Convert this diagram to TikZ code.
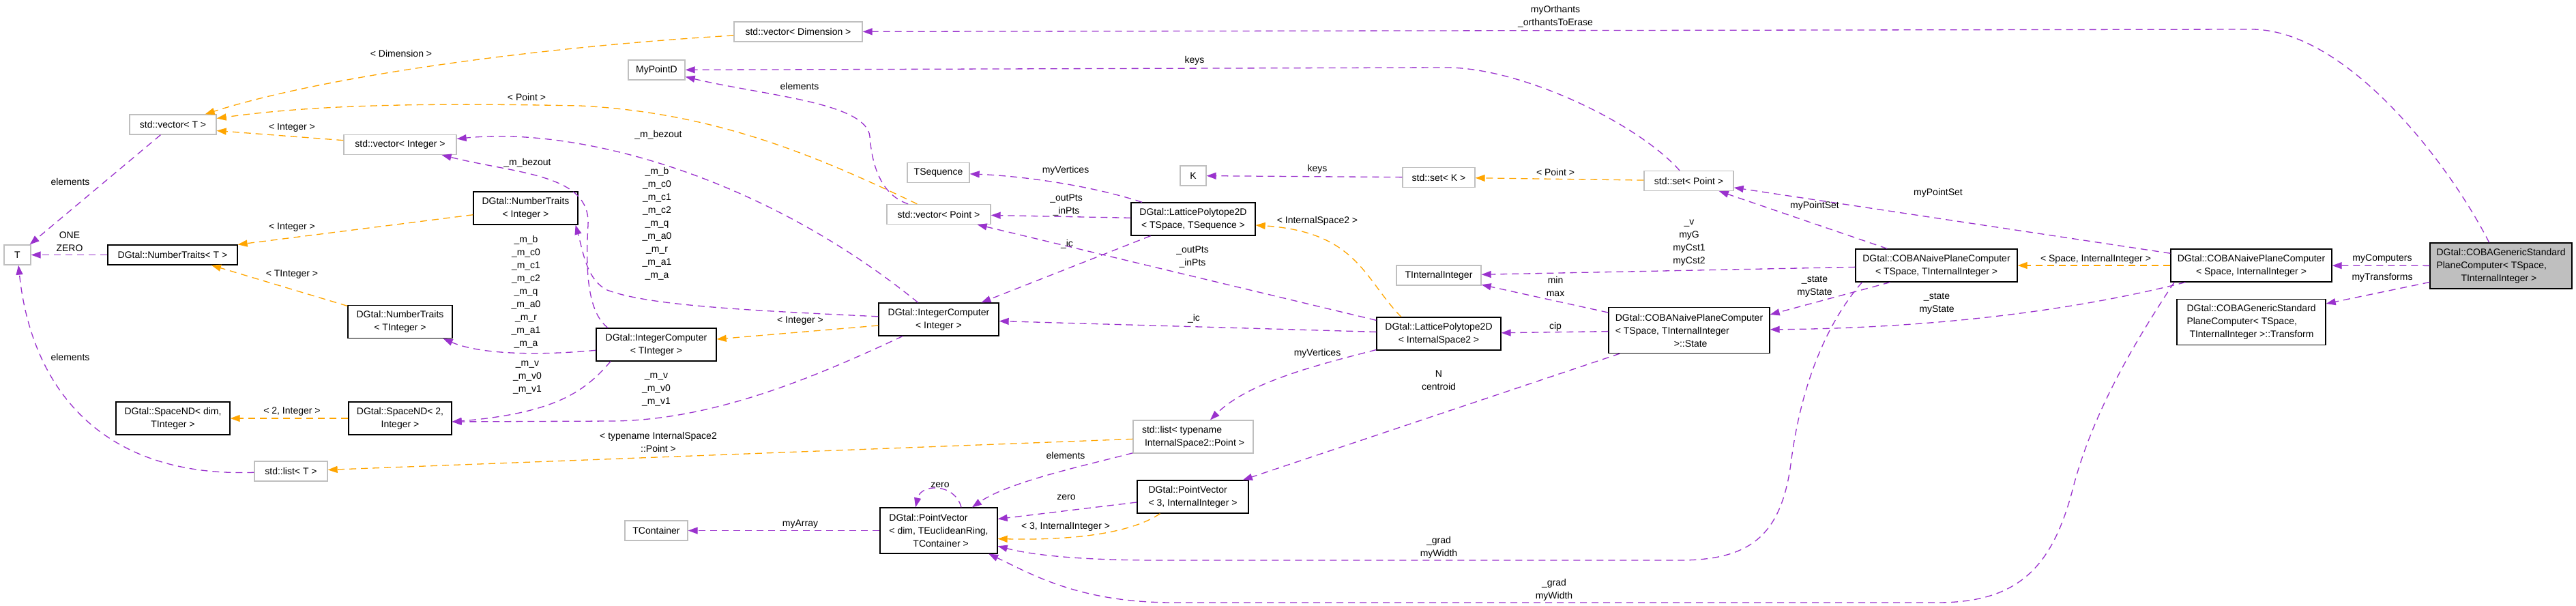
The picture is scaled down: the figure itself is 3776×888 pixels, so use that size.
\documentclass[tikz,border=0pt]{standalone}
\usepackage{fontspec}
\setmainfont{Liberation Sans}
\usepackage{tikz}
\usetikzlibrary{arrows.meta}
\usepackage{xcolor}
\definecolor{usepurple}{HTML}{9A32CD}
\definecolor{tmplorange}{HTML}{FFA500}
\definecolor{undocgray}{HTML}{BFBFBF}
\definecolor{mainfill}{HTML}{BFBFBF}
\newcommand{\dgsize}{\fontsize{14}{19}\selectfont}
\tikzset{
    docbox/.style={draw=black, line width=1.3pt, fill=white, inner sep=0pt, minimum height=29pt, font=\dgsize, align=center},
    undocbox/.style={docbox, draw=undocgray},
    mainbox/.style={docbox, fill=mainfill},
    twoline/.style={minimum height=48pt},
    threeline/.style={minimum height=67pt},
    usage/.style={draw=usepurple, line width=1.3pt, dash pattern=on 10pt off 7pt, -{Triangle[length=14pt, width=10pt]}},
    tmplarrow/.style={usage, draw=tmplorange},
    elabel/.style={font=\dgsize, align=center, inner sep=0pt}
}

\begin{document}
\begin{tikzpicture}[x=1pt, y=-1pt]
    \useasboundingbox (0,0) rectangle (3776,888);

    \node[undocbox, minimum width=188pt] (vecDim) at (1170,46.5) {std::vector< Dimension >};
    \node[undocbox, minimum width=83pt] (mypt) at (962.5,102.5) {MyPointD};
    \node[undocbox, minimum width=127pt] (vecT) at (253.5,182.5) {std::vector< T >};
    \node[undocbox, minimum width=165pt] (vecInt) at (586.5,212) {std::vector< Integer >};
    \node[undocbox, minimum width=39pt] (T) at (25.5,373.5) {T};
    \node[docbox, minimum width=190pt] (ntT) at (253,373.5) {DGtal::NumberTraits< T >};
    \node[docbox, twoline, minimum width=153pt] (ntInt) at (770.5,305) {DGtal::NumberTraits\\< Integer >};
    \node[docbox, twoline, minimum width=153pt] (ntTInt) at (586.5,471.5) {DGtal::NumberTraits\\< TInteger >};
    \node[docbox, twoline, minimum width=167pt] (spDim) at (253.5,613) {DGtal::SpaceND< dim,\\TInteger >};
    \node[docbox, twoline, minimum width=151pt] (sp2) at (586.5,613) {DGtal::SpaceND< 2,\\Integer >};
    \node[undocbox, minimum width=107pt] (lstT) at (426.5,690.5) {std::list< T >};
    \node[docbox, twoline, minimum width=176pt] (icT) at (962,505) {DGtal::IntegerComputer\\< TInteger >};
    \node[docbox, twoline, minimum width=176pt] (icInt) at (1376,468) {DGtal::IntegerComputer\\< Integer >};
    \node[undocbox, minimum width=92pt] (tcont) at (962,777.5) {TContainer};
    \node[docbox, threeline, minimum width=172pt, align=left] (pvDim) at (1376,777.5) {DGtal::PointVector\\< dim, TEuclideanRing,\\\hspace*{35pt}TContainer >};
    \node[docbox, twoline, minimum width=163pt, align=left] (pv3) at (1748.5,728) {DGtal::PointVector\\< 3, InternalInteger >};
    \node[undocbox, twoline, minimum width=176pt, align=left] (lstIS) at (1749,640) {std::list< typename\\\hspace*{4pt}InternalSpace2::Point >};
    \node[undocbox, minimum width=91pt] (tseq) at (1375.5,253) {TSequence};
    \node[undocbox, minimum width=152pt] (vecPt) at (1376,314) {std::vector< Point >};
    \node[docbox, twoline, minimum width=182pt] (lpTS) at (1749,321) {DGtal::LatticePolytope2D\\< TSpace, TSequence >};
    \node[undocbox, minimum width=38pt] (K) at (1749,257.5) {K};
    \node[undocbox, minimum width=106pt] (setK) at (2109,260) {std::set< K >};
    \node[undocbox, minimum width=131pt] (setPt) at (2475.5,265) {std::set< Point >};
    \node[undocbox, minimum width=124pt] (tii) at (2109,403.5) {TInternalInteger};
    \node[docbox, twoline, minimum width=182pt] (lpIS) at (2109,489) {DGtal::LatticePolytope2D\\< InternalSpace2 >};
    \node[docbox, threeline, minimum width=236pt, align=left] (state) at (2476,484) {DGtal::COBANaivePlaneComputer\\< TSpace, TInternalInteger\\\hspace*{86pt}>::State};
    \node[docbox, twoline, minimum width=237pt] (cobaT) at (2838.5,389) {DGtal::COBANaivePlaneComputer\\< TSpace, TInternalInteger >};
    \node[docbox, twoline, minimum width=236pt] (cobaS) at (3300,389) {DGtal::COBANaivePlaneComputer\\< Space, InternalInteger >};
    \node[mainbox, threeline, minimum width=208pt, align=left] (main) at (3666,389.5) {DGtal::COBAGenericStandard\\PlaneComputer< TSpace,\\\hspace*{36pt}TInternalInteger >};
    \node[docbox, threeline, minimum width=218pt, align=left] (trans) at (3300,472) {DGtal::COBAGenericStandard\\PlaneComputer< TSpace,\\\hspace*{4pt}TInternalInteger >::Transform};

    \draw[usage] (main) .. controls (3590,240) and (3440,43) .. (3300,43) -- (vecDim);
    \draw[usage] (setPt) .. controls (2400,180) and (2230,99) .. (2120,99) -- (mypt);
    \draw[usage] (vecPt) .. controls (1290,285) and (1278,240) .. (1275,200) .. controls (1270,150) and (1120,140) .. (mypt);
    \draw[usage] (vecT) -- (T);
    \draw[usage] (ntT) -- (T);
    \draw[usage] (lstT) .. controls (140,700) and (45,560) .. (T);
    \draw[usage] ([xshift=-71pt]icT.north) .. controls (862,458) and (858,400) .. (862,330) .. controls (866,255) and (760,255) .. (vecInt);
    \draw[usage] (icInt) .. controls (1120,260) and (850,185) .. (vecInt);
    \draw[usage] (icT) .. controls (780,522) and (700,518) .. ([xshift=-14pt]ntTInt.south east);
    \draw[usage] ([xshift=-67pt]icT.south) .. controls (860,570) and (820,605) .. ([yshift=-5pt]sp2.east);
    \draw[usage] (icInt) .. controls (1200,550) and (1050,615) .. (900,617) -- ([yshift=-5pt]sp2.east);
    \draw[usage] (icInt) .. controls (1100,455) and (950,448) .. (890,425) .. controls (860,410) and (855,370) .. ([xshift=-4pt]ntInt.south east);
    \draw[usage] (lpTS) .. controls (1600,272) and (1500,258) .. (tseq);
    \draw[usage] (lpTS) -- (vecPt);
    \draw[usage] (lpTS) -- (icInt);
    \draw[usage] ([yshift=-5pt]lpIS.north west) -- ([xshift=-20pt]vecPt.south east);
    \draw[usage] (lpIS) -- (icInt);
    \draw[usage] (lpIS) .. controls (1930,535) and (1830,560) .. (lstIS);
    \draw[usage] (lstIS) .. controls (1600,680) and (1480,705) .. (pvDim);
    \draw[usage] ([xshift=33pt]pvDim.north) .. controls (1400,708) and (1350,708) .. ([xshift=-34pt]pvDim.north);
    \draw[usage] ([yshift=-8pt]pv3.west) -- ([yshift=17pt]pvDim.east);
    \draw[usage] (pvDim) -- (tcont);
    \draw[usage] (state) -- (tii);
    \draw[usage] (cobaT) -- (tii);
    \draw[usage] (cobaT) -- (setPt);
    \draw[usage] ([xshift=-68pt]cobaT.south) -- ([yshift=23pt]state.east);
    \draw[usage] ([xshift=-109pt]cobaT.south) .. controls (2680,470) and (2640,560) .. (2625,680) .. controls (2610,790) and (2560,821) .. (2460,821) -- (1700,821) .. controls (1560,821) and (1500,810) .. (pvDim);
    \draw[usage] (cobaS) -- (setPt);
    \draw[usage] (cobaS) .. controls (3100,440) and (2900,480) .. (state);
    \draw[usage] ([xshift=-113pt]cobaS.south) .. controls (3130,500) and (3070,600) .. (3040,710) .. controls (3010,830) and (2960,883) .. (2840,883) -- (1720,883) .. controls (1580,883) and (1510,840) .. (pvDim);
    \draw[usage] (state) -- (lpIS);
    \draw[usage] (state) -- (pv3);
    \draw[usage] (main) -- (cobaS);
    \draw[usage] ([yshift=-24pt]main.west) -- ([yshift=27pt]trans.east);
    \draw[usage] (setK) -- (K);

    \draw[tmplarrow] (vecDim) .. controls (800,68) and (480,110) .. ([xshift=-17pt]vecT.north east);
    \draw[tmplarrow] (vecPt) .. controls (1200,230) and (1050,165) .. (850,155) .. controls (600,150) and (450,155) .. ([yshift=9pt]vecT.east);
    \draw[tmplarrow] (vecInt) -- ([yshift=-9pt]vecT.east);
    \draw[tmplarrow] (ntInt) -- (ntT.north east);
    \draw[tmplarrow] (ntTInt) -- ([xshift=57pt]ntT.south);
    \draw[tmplarrow] (sp2) -- (spDim);
    \draw[tmplarrow] (lstIS) -- (lstT);
    \draw[tmplarrow] ([yshift=-9pt]icInt.west) -- ([yshift=8pt]icT.east);
    \draw[tmplarrow] ([xshift=-48pt]pv3.south) .. controls (1660,780) and (1580,792) .. ([yshift=-12pt]pvDim.east);
    \draw[tmplarrow] ([xshift=-55pt]lpIS.north) .. controls (2000,410) and (1990,340) .. ([yshift=-9pt]lpTS.east);
    \draw[tmplarrow] (setPt) -- (setK);
    \draw[tmplarrow] (cobaS) -- (cobaT);

    \node[elabel] (lOrth) at (2280,24) {myOrthants\\\_orthantsToErase};
    \node[elabel] (lKeysA) at (1751,89) {keys};
    \node[elabel] (lElemA) at (1172,126) {elements};
    \node[elabel] (lElemB) at (103,266) {elements};
    \node[elabel] (lOne) at (102,354) {ONE\\ZERO};
    \node[elabel] (lElemC) at (103,523) {elements};
    \node[elabel] (lBezA) at (773,239) {\_m\_bezout};
    \node[elabel] (lBezB) at (965,198) {\_m\_bezout};
    \node[elabel] (lMembA) at (771,427.5) {\_m\_b\\\_m\_c0\\\_m\_c1\\\_m\_c2\\\_m\_q\\\_m\_a0\\\_m\_r\\\_m\_a1\\\_m\_a};
    \node[elabel] (lMembB) at (963,328) {\_m\_b\\\_m\_c0\\\_m\_c1\\\_m\_c2\\\_m\_q\\\_m\_a0\\\_m\_r\\\_m\_a1\\\_m\_a};
    \node[elabel] (lVecA) at (773,553.5) {\_m\_v\\\_m\_v0\\\_m\_v1};
    \node[elabel] (lVecB) at (962,571) {\_m\_v\\\_m\_v0\\\_m\_v1};
    \node[elabel] (lVertA) at (1562,250) {myVertices};
    \node[elabel] (lPtsA) at (1563,301) {\_outPts\\\_inPts};
    \node[elabel] (lIcA) at (1564,358) {\_ic};
    \node[elabel] (lPtsB) at (1748,377) {\_outPts\\\_inPts};
    \node[elabel] (lIcB) at (1750,467) {\_ic};
    \node[elabel] (lVertB) at (1931,518) {myVertices};
    \node[elabel] (lElemD) at (1562,667) {elements};
    \node[elabel] (lZeroA) at (1378,711) {zero};
    \node[elabel] (lZeroB) at (1563,729) {zero};
    \node[elabel] (lArray) at (1173,768) {myArray};
    \node[elabel] (lMinMax) at (2280,420) {min\\max};
    \node[elabel] (lCst) at (2476,356) {\_v\\myG\\myCst1\\myCst2};
    \node[elabel] (lSetA) at (2660,302) {myPointSet};
    \node[elabel] (lStateA) at (2660,420) {\_state\\myState};
    \node[elabel] (lGradA) at (2109,802) {\_grad\\myWidth};
    \node[elabel] (lSetB) at (2841,283) {myPointSet};
    \node[elabel] (lStateB) at (2839,445) {\_state\\myState};
    \node[elabel] (lGradB) at (2278,864) {\_grad\\myWidth};
    \node[elabel] (lCip) at (2280,479) {cip};
    \node[elabel] (lCentroid) at (2109,557) {N\\centroid};
    \node[elabel] (lComp) at (3492,379) {myComputers};
    \node[elabel] (lTrans) at (3492,407) {myTransforms};
    \node[elabel] (lKeysB) at (1931,248) {keys};
    \node[elabel] (tDim) at (588,78) {< Dimension >};
    \node[elabel] (tPointA) at (772,142) {< Point >};
    \node[elabel] (tIntA) at (428,187) {< Integer >};
    \node[elabel] (tIntB) at (428,333) {< Integer >};
    \node[elabel] (tTInt) at (428,402) {< TInteger >};
    \node[elabel] (tTwo) at (428,603) {< 2, Integer >};
    \node[elabel] (tTypename) at (965,648) {< typename InternalSpace2\\::Point >};
    \node[elabel] (tIntC) at (1173,470) {< Integer >};
    \node[elabel] (tThree) at (1562,772) {< 3, InternalInteger >};
    \node[elabel] (tSpace2) at (1931,324) {< InternalSpace2 >};
    \node[elabel] (tPointB) at (2280,252) {< Point >};
    \node[elabel] (tSpace) at (3072,380) {< Space, InternalInteger >};
\end{tikzpicture}
\end{document}
